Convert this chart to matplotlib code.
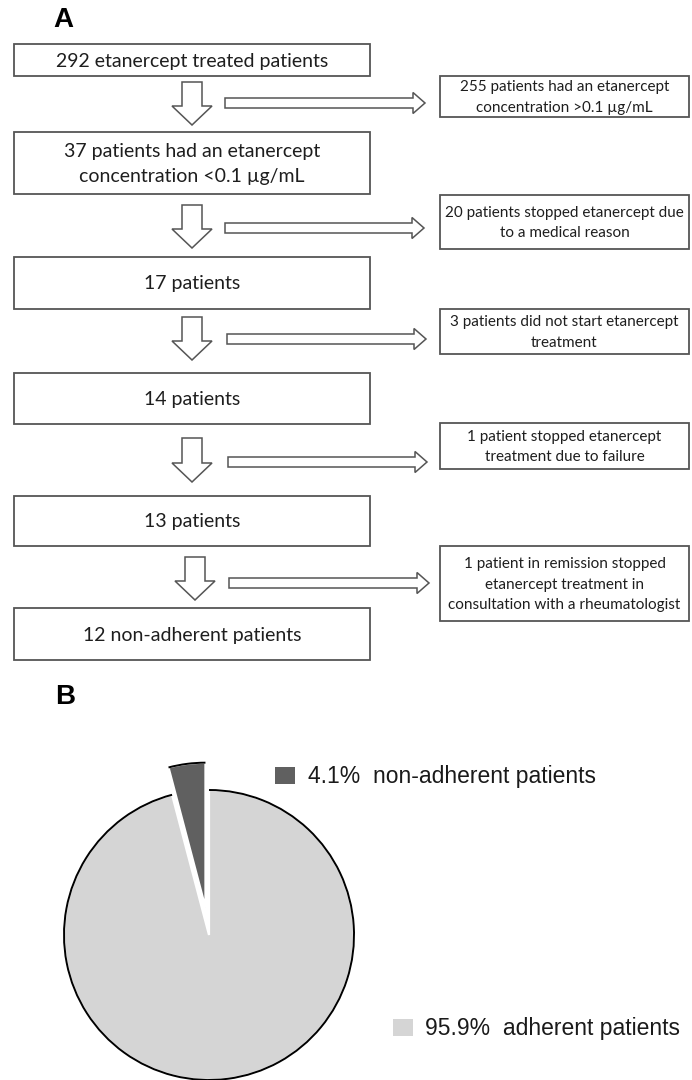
import matplotlib
matplotlib.use("Agg")
import matplotlib.pyplot as plt
from matplotlib.patches import Rectangle, Polygon, Arc

# ---------------- data ----------------
main_steps = [
    "292 etanercept treated patients",
    "37 patients had an etanercept\nconcentration <0.1 µg/mL",
    "17 patients",
    "14 patients",
    "13 patients",
    "12 non-adherent patients",
]
excluded_steps = [
    "255 patients had an etanercept\nconcentration >0.1 µg/mL",
    "20 patients stopped etanercept due\nto a medical reason",
    "3 patients did not start etanercept\ntreatment",
    "1 patient stopped etanercept\ntreatment due to failure",
    "1 patient in remission stopped\netanercept treatment in\nconsultation with a rheumatologist",
]
pie_labels = ["non-adherent patients", "adherent patients"]
pie_values = [4.1, 95.9]
panel_labels = ["A", "B"]

# ---------------- layout (pixels) ----------------
W, H = 692, 1080
main_box_x = (14, 370)
main_box_y = [(44, 76), (132, 194), (257, 309), (373, 424), (496, 546), (608, 660)]
side_box_x = (440, 689)
side_box_y = [(76, 117), (195, 249), (309, 354), (423, 469), (546, 621)]
down_arrows = [(192, 82, 125), (192, 205, 248), (192, 317, 360), (192, 438, 482), (195, 557, 600)]
right_arrows = [(225, 425, 103), (225, 424, 228), (227, 426, 339), (228, 427, 462), (229, 429, 583)]

edge = "#555555"
txt = "#1e1e1e"
flow_font = ["Lato", "DejaVu Sans"]
pie_colors = ["#606060", "#d5d5d5"]

fig = plt.figure(figsize=(W / 100, H / 100), dpi=100)
ax = fig.add_axes([0, 0, 1, 1])
ax.set_xlim(0, W)
ax.set_ylim(H, 0)
ax.axis("off")

for (y0, y1), label in zip(main_box_y, main_steps):
    x0, x1 = main_box_x
    ax.add_patch(Rectangle((x0, y0), x1 - x0, y1 - y0, fill=False, ec=edge, lw=1.3))
    ax.text((x0 + x1) / 2, (y0 + y1) / 2 + 1, label, ha="center", va="center",
            fontsize=14, family=flow_font, color=txt, linespacing=1.6)

for (y0, y1), label in zip(side_box_y, excluded_steps):
    x0, x1 = side_box_x
    ax.add_patch(Rectangle((x0, y0), x1 - x0, y1 - y0, fill=False, ec=edge, lw=1.3))
    ax.text((x0 + x1) / 2, (y0 + y1) / 2 + 1, label, ha="center", va="center",
            fontsize=11, family=flow_font, color=txt, linespacing=1.6)

for cx, top, tip in down_arrows:
    sw, hw, hl = 10, 20, 19
    pts = [(cx - sw, top), (cx + sw, top), (cx + sw, tip - hl), (cx + hw, tip - hl),
           (cx, tip), (cx - hw, tip - hl), (cx - sw, tip - hl)]
    ax.add_patch(Polygon(pts, closed=True, fc="white", ec=edge, lw=1.1))

for x0, x1, cy in right_arrows:
    sh, hh, hl = 5, 10.5, 12
    pts = [(x0, cy - sh), (x1 - hl, cy - sh), (x1 - hl, cy - hh), (x1, cy),
           (x1 - hl, cy + hh), (x1 - hl, cy + sh), (x0, cy + sh)]
    ax.add_patch(Polygon(pts, closed=True, fc="white", ec=edge, lw=1.1))

ax.text(53, 20, panel_labels[0], ha="left", va="center", fontsize=20,
        fontweight="bold", family="Liberation Sans", color="black")
ax.text(55, 697, panel_labels[1], ha="left", va="center", fontsize=20,
        fontweight="bold", family="Liberation Sans", color="black")

# ---------------- pie ----------------
r_px = 145
cx_px, cy_px = 209, 935
pax = fig.add_axes([(cx_px - r_px) / W, (H - cy_px - r_px) / H, 2 * r_px / W, 2 * r_px / H])
wedges, _ = pax.pie(pie_values, colors=pie_colors, startangle=90, counterclock=True,
                    explode=[0.19, 0], wedgeprops=dict(edgecolor="white", linewidth=1.6))
pax.set_xlim(-1, 1)
pax.set_ylim(-1, 1)
pax.set_aspect("equal")
pax.axis("off")
for w in wedges:
    w.set_clip_on(False)
    arc = Arc(w.center, 2 * w.r, 2 * w.r, theta1=w.theta1, theta2=w.theta2,
              color="black", lw=1.4)
    arc.set_clip_on(False)
    pax.add_patch(arc)

# legend entries
leg_pos = [(275, 767, 308, 776), (393, 1019, 425, 1028)]
for (sx, sy, tx, ty), w, v, lab in zip(leg_pos, wedges, pie_values, pie_labels):
    ax.add_patch(Rectangle((sx, sy), 20, 17, fc=w.get_facecolor(), ec="none"))
    ax.text(tx, ty, f"{v:.1f}%  {lab}", ha="left", va="center", fontsize=16.5,
            family="Liberation Sans", color="#1a1a1a")

fig.savefig("out.png", dpi=100)
